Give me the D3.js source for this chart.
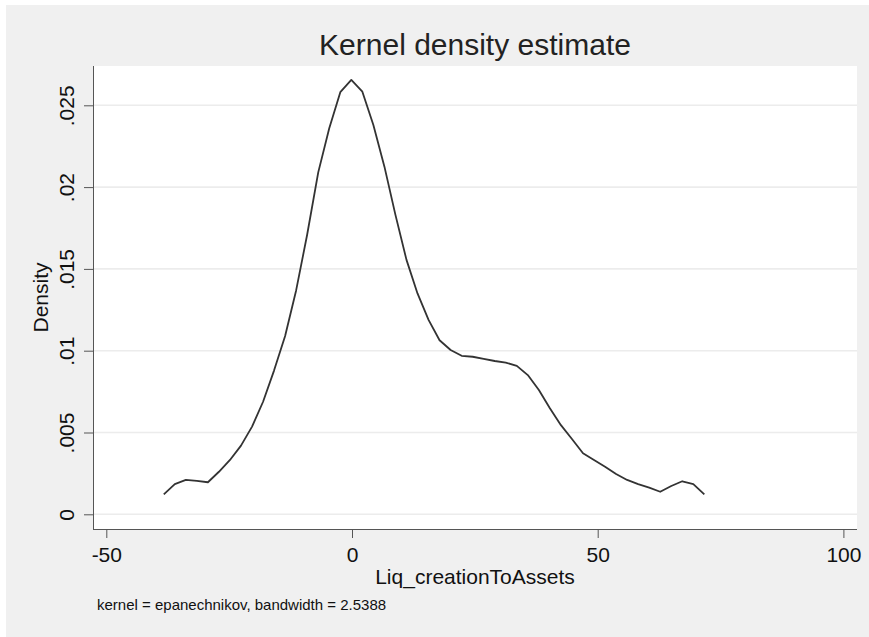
<!DOCTYPE html>
<html>
<head>
<meta charset="utf-8">
<script src="https://cdn.jsdelivr.net/npm/d3@7"></script>
<style>
  html, body { margin: 0; padding: 0; background: #ffffff; }
  svg { display: block; font-family: "Liberation Sans", Arial, sans-serif; }
</style>
</head>
<body>
<svg id="chart" width="869" height="637"></svg>
<script>
// Evaluation grid of the kernel density estimate (50 points)
const gridX = [
  -38.30, -36.06, -33.81, -31.57, -29.32, -27.08, -24.83, -22.59, -20.34, -18.10,
  -15.85, -13.61, -11.36,  -9.12,  -6.87,  -4.63,  -2.38,  -0.14,   2.11,   4.35,
    6.60,   8.84,  11.09,  13.33,  15.58,  17.82,  20.07,  22.31,  24.56,  26.80,
   29.05,  31.29,  33.54,  35.78,  38.03,  40.27,  42.52,  44.76,  47.01,  49.25,
   51.50,  53.74,  55.99,  58.23,  60.48,  62.72,  64.97,  67.21,  69.46,  71.70
];
// Estimated density at each grid point
const density = [
  0.00122, 0.00185, 0.00210, 0.00204, 0.00196, 0.00260, 0.00332, 0.00420, 0.00536, 0.00688,
  0.00880, 0.01090, 0.01370, 0.01710, 0.02090, 0.02360, 0.02580, 0.02655, 0.02583, 0.02380,
  0.02125, 0.01830, 0.01555, 0.01350, 0.01188, 0.01064, 0.01004, 0.00969, 0.00963, 0.00950,
  0.00937, 0.00927, 0.00907, 0.00851, 0.00760, 0.00648, 0.00545, 0.00460, 0.00373, 0.00332,
  0.00291, 0.00246, 0.00210, 0.00185, 0.00163, 0.00138, 0.00173, 0.00202, 0.00185, 0.00122
];
const xTicks = [-50, 0, 50, 100];
const xTickLabels = ["-50", "0", "50", "100"];
const yTicks = [0, 0.005, 0.01, 0.015, 0.02, 0.025];
const yTickLabels = ["0", ".005", ".01", ".015", ".02", ".025"];

const titleText = "Kernel density estimate";
const xTitle = "Liq_creationToAssets";
const yTitle = "Density";
const noteText = "kernel = epanechnikov, bandwidth = 2.5388";

const svg = d3.select("#chart");
const W = 869, H = 637;

// plot region box
const plot = { left: 93, right: 857, top: 66, bottom: 529 };

const x = d3.scaleLinear().domain([-50, 100]).range([106.3, 843.4]);
const y = d3.scaleLinear().domain([0, 0.025]).range([514.3, 105.3]);

// outer graph background
svg.append("rect")
  .attr("x", 6).attr("y", 5)
  .attr("width", W - 6).attr("height", H - 5)
  .attr("fill", "#f0f0f0");

// plot region
svg.append("rect")
  .attr("x", plot.left).attr("y", plot.top)
  .attr("width", plot.right - plot.left).attr("height", plot.bottom - plot.top)
  .attr("fill", "#ffffff");

// horizontal grid lines
svg.append("g").selectAll("line")
  .data(yTicks)
  .join("line")
  .attr("x1", plot.left).attr("x2", plot.right)
  .attr("y1", d => y(d)).attr("y2", d => y(d))
  .attr("stroke", "#ececec")
  .attr("stroke-width", 1.6);

// density curve
const line = d3.line()
  .x((d, i) => x(gridX[i]))
  .y(d => y(d));

svg.append("path")
  .datum(density)
  .attr("d", line)
  .attr("fill", "none")
  .attr("stroke", "#333333")
  .attr("stroke-width", 1.8)
  .attr("stroke-linejoin", "round");

// y axis
const yAxis = d3.axisLeft(y)
  .tickValues(yTicks)
  .tickFormat((d, i) => yTickLabels[i])
  .tickSize(9)
  .tickPadding(0);

const gy = svg.append("g")
  .attr("transform", `translate(${plot.left},0)`)
  .call(yAxis);
gy.select(".domain")
  .attr("d", `M0.5,${plot.top}V${plot.bottom}`)
  .attr("stroke", "#555");
gy.selectAll(".tick line").attr("stroke", "#555");
gy.selectAll(".tick text")
  .attr("x", null).attr("dy", null)
  .attr("transform", "translate(-19,0) rotate(-90)")
  .attr("text-anchor", "middle")
  .attr("font-size", 21)
  .attr("fill", "#111");

// x axis
const xAxis = d3.axisBottom(x)
  .tickValues(xTicks)
  .tickFormat((d, i) => xTickLabels[i])
  .tickSize(9)
  .tickPadding(0);

const gx = svg.append("g")
  .attr("transform", `translate(0,${plot.bottom})`)
  .call(xAxis);
gx.select(".domain")
  .attr("d", `M${plot.left},0.5H${plot.right}`)
  .attr("stroke", "#555");
gx.selectAll(".tick line").attr("stroke", "#555");
gx.selectAll(".tick text")
  .attr("y", 33).attr("dy", null)
  .attr("font-size", 21)
  .attr("fill", "#111");

// titles
const cx = (plot.left + plot.right) / 2;
svg.append("text")
  .attr("x", cx).attr("y", 55)
  .attr("text-anchor", "middle")
  .attr("font-size", 30)
  .attr("fill", "#222")
  .text(titleText);

svg.append("text")
  .attr("x", cx).attr("y", 584)
  .attr("text-anchor", "middle")
  .attr("font-size", 21)
  .attr("fill", "#111")
  .text(xTitle);

svg.append("text")
  .attr("transform", `translate(48,${(plot.top + plot.bottom) / 2}) rotate(-90)`)
  .attr("text-anchor", "middle")
  .attr("font-size", 21)
  .attr("fill", "#111")
  .text(yTitle);

svg.append("text")
  .attr("x", 97).attr("y", 610)
  .attr("font-size", 15)
  .attr("fill", "#111")
  .text(noteText);
</script>
</body>
</html>
